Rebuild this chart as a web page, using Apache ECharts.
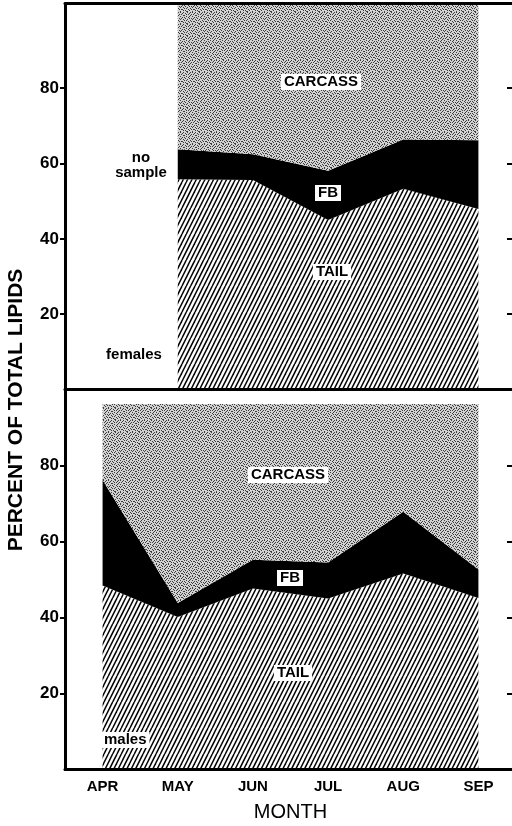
<!DOCTYPE html>
<html>
<head>
<meta charset="utf-8">
<script src="https://cdn.jsdelivr.net/npm/echarts@6/dist/echarts.min.js"></script>
<style>
	html, body { margin: 0; padding: 0; background: #fff; }
	#e_chart_1 { width: 512px; height: 826px; }
</style>
</head>
<body>
<div id="e_chart_1"></div>
<script>
"use strict";

/*****Data start*****/
var months = ['APR', 'MAY', 'JUN', 'JUL', 'AUG', 'SEP'];
var yTicks = [20, 40, 60, 80];

// females: no sample in April
var femTail = [null, 55.8, 55.6, 45.0, 53.3, 47.9];
var femFB = [null, 8.0, 6.9, 13.1, 13.1, 18.3];
var femCarcass = [null, 38.7, 40.0, 44.4, 36.1, 36.3];

// males
var maleTail = [48.4, 40.1, 47.6, 45.0, 51.6, 45.1];
var maleFB = [27.8, 3.7, 7.6, 9.5, 16.2, 7.5];
var maleCarcass = [20.0, 52.4, 41.0, 41.7, 28.4, 43.6];
/*****Data end*****/

var FONT = "'Liberation Sans', Arial, sans-serif";

/*****Fill patterns*****/
var hatchPattern = function() {
	var c = document.createElement('canvas');
	c.width = 13; c.height = 26;
	var g = c.getContext('2d');
	g.fillStyle = '#fff';
	g.fillRect(0, 0, 13, 26);
	g.strokeStyle = '#000';
	g.lineWidth = 1.5;
	for (var k = -3; k <= 3; k++) {
		var x0 = k * 13 / 3;
		g.beginPath();
		g.moveTo(x0, 26);
		g.lineTo(x0 + 13, 0);
		g.stroke();
	}
	return c;
};

var stipplePattern = function() {
	// fixed dot layout, 12x12 tile
	var rows = [
		'100100010010',
		'001001000100',
		'010000101001',
		'000110000010',
		'100000100100',
		'001010001000',
		'010001000101',
		'100100010000',
		'000010100010',
		'011000001001',
		'000101000100',
		'100000110000'
	];
	var c = document.createElement('canvas');
	c.width = 12; c.height = 12;
	var g = c.getContext('2d');
	g.fillStyle = '#d2d2d2';
	g.fillRect(0, 0, 12, 12);
	g.fillStyle = '#3c3c3c';
	for (var y = 0; y < 12; y++) {
		for (var x = 0; x < 12; x++) {
			if (rows[y][x] === '1') g.fillRect(x, y, 1, 1);
		}
	}
	return c;
};

var hatch = { image: hatchPattern(), repeat: 'repeat' };
var stipple = { image: stipplePattern(), repeat: 'repeat' };

/*****Helpers*****/
var areaSeries = function(name, data, fill, idx, stack) {
	return {
		name: name,
		type: 'line',
		xAxisIndex: idx,
		yAxisIndex: idx * 2,
		stack: stack,
		data: data,
		symbol: 'none',
		lineStyle: { width: 0 },
		areaStyle: { color: fill, opacity: 1 },
		emphasis: { disabled: true },
		animation: false
	};
};

var yAxisFor = function(gridIndex, max, side) {
	var left = side === 'left';
	return {
		type: 'value',
		gridIndex: gridIndex,
		position: side,
		min: 0,
		max: max,
		interval: 20,
		z: 10,
		splitLine: { show: false },
		axisLine: { show: true, onZero: false, lineStyle: { color: '#000', width: 3 } },
		axisTick: {
			show: true,
			inside: !left,
			length: left ? 5 : 9,
			customValues: yTicks,
			lineStyle: { color: '#000', width: 2 }
		},
		axisLabel: {
			show: left,
			customValues: yTicks,
			margin: 6,
			color: '#000',
			fontFamily: FONT,
			fontWeight: 'bold',
			fontSize: 17
		}
	};
};

var boxLabel = function(text, x, y, size, align) {
	return {
		type: 'text',
		x: x,
		y: y,
		z: 20,
		style: {
			text: text,
			align: align || 'center',
			verticalAlign: 'middle',
			fill: '#000',
			font: 'bold ' + (size || 15) + 'px ' + FONT,
			backgroundColor: '#fff',
			padding: [1, 3, 0, 3]
		}
	};
};

var plainLabel = function(text, x, y, size) {
	return {
		type: 'text',
		x: x,
		y: y,
		z: 20,
		style: {
			text: text,
			align: 'center',
			verticalAlign: 'middle',
			fill: '#000',
			font: 'bold ' + size + 'px ' + FONT,
			lineHeight: 15
		}
	};
};

/*****E-Charts function start*****/
var eChart_1 = echarts.init(document.getElementById('e_chart_1'));
var option = {
	animation: false,
	backgroundColor: '#fff',
	grid: [
		{ left: 65, top: 3.5, width: 451, height: 386, outerBoundsMode: 'none' },
		{ left: 65, top: 389.5, width: 451, height: 380, outerBoundsMode: 'none' }
	],
	xAxis: [
		{
			type: 'category', gridIndex: 0, position: 'bottom', data: months,
			boundaryGap: true, z: 10,
			axisLine: { onZero: false, lineStyle: { color: '#000', width: 3 } },
			axisTick: { length: 6, lineStyle: { color: '#000', width: 2 } },
			axisLabel: { show: false }
		},
		{
			type: 'category', gridIndex: 1, position: 'bottom', data: months,
			boundaryGap: true, z: 10,
			axisLine: { onZero: false, lineStyle: { color: '#000', width: 3 } },
			axisTick: { length: 6, lineStyle: { color: '#000', width: 2 } },
			axisLabel: {
				margin: 10, color: '#000', fontFamily: FONT,
				fontWeight: 'bold', fontSize: 15
			},
			name: 'MONTH',
			nameLocation: 'middle',
			nameGap: 33,
			nameTextStyle: { color: '#000', fontFamily: FONT, fontSize: 20 }
		},
		{
			type: 'category', gridIndex: 0, position: 'top', data: months,
			boundaryGap: true, z: 10,
			axisLine: { onZero: false, lineStyle: { color: '#000', width: 3 } },
			axisTick: { show: false },
			axisLabel: { show: false }
		}
	],
	yAxis: [
		yAxisFor(0, 102.5, 'left'),
		yAxisFor(0, 102.5, 'right'),
		yAxisFor(1, 100, 'left'),
		yAxisFor(1, 100, 'right')
	],
	series: [
		areaSeries('TAIL', femTail, hatch, 0, 'females'),
		areaSeries('FB', femFB, '#000', 0, 'females'),
		areaSeries('CARCASS', femCarcass, stipple, 0, 'females'),
		areaSeries('TAIL', maleTail, hatch, 1, 'males'),
		areaSeries('FB', maleFB, '#000', 1, 'males'),
		areaSeries('CARCASS', maleCarcass, stipple, 1, 'males')
	],
	graphic: [
		{
			type: 'text', x: 16, y: 410, rotation: Math.PI / 2, z: 20,
			style: {
				text: 'PERCENT OF TOTAL LIPIDS',
				align: 'center', verticalAlign: 'middle',
				fill: '#000', font: 'bold 21px ' + FONT
			}
		},
		boxLabel('CARCASS', 321, 82),
		boxLabel('FB', 328, 193),
		boxLabel('TAIL', 332, 272),
		plainLabel('no\nsample', 141, 165, 15),
		plainLabel('females', 134, 355, 15),
		boxLabel('CARCASS', 288, 475),
		boxLabel('FB', 290, 578),
		boxLabel('TAIL', 293, 673),
		boxLabel('males', 101, 740, 15, 'left')
	]
};
eChart_1.setOption(option);
/*****E-Charts function end*****/
</script>
</body>
</html>
